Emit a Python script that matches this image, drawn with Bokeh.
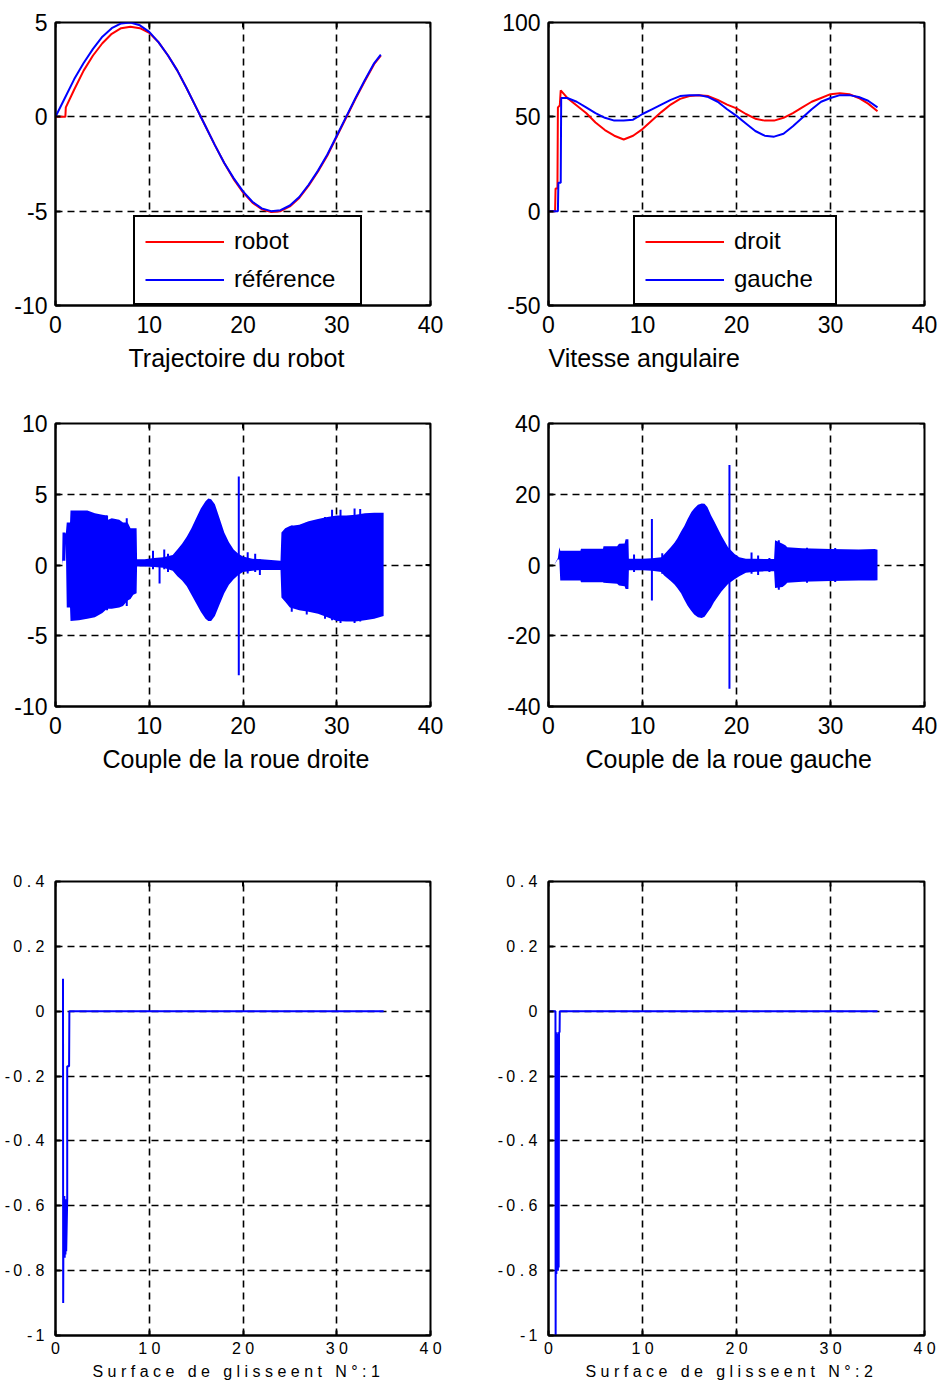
import math
from bokeh.plotting import figure
from bokeh.layouts import column, row
from bokeh.models import Range1d, FixedTicker, Title, Legend, LegendItem
from bokeh.embed import file_html
from bokeh.resources import INLINE

FONT = "Liberation Sans"
BLUE = "#0000ff"
RED = "#ff0000"
NB = "\u00a0"

# ---------------- Trajectoire du robot ----------------
ref_t = [0, 1, 2, 3, 4, 5, 6, 7, 8, 9, 10, 11, 12, 13, 14, 15, 16, 17, 18, 19, 20,
         21, 22, 23, 24, 25, 26, 27, 28, 29, 30, 31, 32, 33, 34, 34.7]
ref_y = [0.0, 1.0, 2.0, 2.85, 3.6, 4.25, 4.7, 4.95, 5.0, 4.85, 4.5, 3.95, 3.25, 2.45,
         1.5, 0.5, -0.5, -1.5, -2.45, -3.25, -3.95, -4.5, -4.85, -5.0, -4.95, -4.7,
         -4.25, -3.6, -2.85, -2.0, -1.0, 0.0, 1.0, 1.95, 2.85, 3.3]
robot_t = [0, 1.05, 1.1, 2, 3, 4, 5, 6, 7, 8, 9, 10, 11, 12, 13, 14, 15, 16, 17, 18,
           19, 20, 21, 22, 23, 24, 25, 26, 27, 28, 29, 30, 31, 32, 33, 34, 34.7]
robot_y = [0.0, 0.0, 0.5, 1.45, 2.45, 3.25, 3.9, 4.4, 4.7, 4.78, 4.7, 4.45, 3.95,
           3.25, 2.45, 1.5, 0.5, -0.5, -1.5, -2.45, -3.3, -4.0, -4.55, -4.9, -5.05,
           -5.0, -4.75, -4.3, -3.65, -2.9, -2.05, -1.05, -0.05, 0.95, 1.9, 2.8, 3.25]

# ---------------- Vitesse angulaire ----------------
droit_t = [0, 0.7, 0.75, 0.95, 1.0, 1.2, 1.3, 2, 3, 4, 5, 6, 7, 8, 9, 10, 11, 12, 13,
           14, 15, 16, 17, 18, 19, 20, 21, 22, 23, 24, 25, 26, 27, 28, 29, 30, 31, 32,
           33, 34, 35]
droit_y = [0, 0, 12, 12, 55, 56, 64, 60, 56, 52, 47, 43, 40, 38, 40, 43.5, 48, 52.5,
           56.5, 59.5, 61, 61.5, 61, 59, 56.5, 54.5, 51.5, 49, 48, 48, 49.5, 52, 55,
           58, 60, 62, 62.5, 62, 60, 57, 53]
gauche_t = [0, 1.0, 1.05, 1.3, 1.35, 2, 3, 4, 5, 6, 7, 8, 9, 10, 11, 12, 13, 14, 15,
            16, 17, 18, 19, 20, 21, 22, 23, 24, 25, 26, 27, 28, 29, 30, 31, 32, 33,
            34, 35]
gauche_y = [0, 0, 15, 15, 60, 60, 58, 55, 52, 49.5, 48, 48, 48.5, 51.5, 54, 56.5,
            59, 61, 61.5, 61.5, 60.5, 58, 54, 50.5, 46.5, 42.5, 40, 39.5, 41, 45,
            49.5, 54, 58, 60, 61.5, 61.5, 60.5, 58.5, 55]

# ---------------- Couple de la roue droite (envelope of the oscillation) ----------------
cd_t = [0.70, 0.75, 1.05, 1.10, 1.20, 1.55, 1.60, 2.5, 3.4, 4.2, 5.0, 5.5, 5.6, 6.0,
        6.8, 7.2, 7.7, 8.0, 8.3, 8.65, 8.7, 9.5, 10.5, 11.5, 12.5, 13.0, 13.5, 14.0,
        14.5, 15.0, 15.5, 16.0, 16.3, 16.6, 17.0, 17.5, 18.0, 18.5, 19.0, 19.5, 20.0,
        21.0, 22.0, 23.0, 24.0, 24.1, 24.5, 25.0, 26.0, 27.0, 28.0, 29.0, 30.0, 31.0,
        32.0, 33.0, 34.0, 35.0]
cd_hi = [0.0, 2.3, 2.3, 2.2, 3.0, 3.0, 3.85, 3.85, 3.85, 3.65, 3.55, 3.5, 3.2, 3.3,
         3.2, 3.0, 3.0, 2.6, 2.6, 2.6, 0.4, 0.4, 0.5, 0.55, 0.7, 1.1, 1.5, 2.0, 2.6,
         3.3, 4.0, 4.5, 4.7, 4.65, 4.3, 3.3, 2.3, 1.6, 1.1, 0.8, 0.6, 0.45, 0.4, 0.35,
         0.3, 2.3, 2.6, 2.75, 2.85, 3.1, 3.25, 3.4, 3.5, 3.5, 3.55, 3.65, 3.7, 3.7]
cd_lo = [0.0, 0.3, 0.3, 1.5, -3.0, -3.0, -3.95, -3.9, -3.8, -3.7, -3.4, -3.1, -3.1,
         -3.1, -3.0, -2.9, -2.5, -2.4, -2.1, -2.0, -0.1, -0.1, -0.15, -0.2, -0.4, -0.8,
         -1.1, -1.5, -2.1, -2.7, -3.3, -3.8, -3.95, -3.95, -3.6, -2.8, -2.0, -1.4, -1.0,
         -0.7, -0.5, -0.4, -0.35, -0.35, -0.35, -2.3, -2.6, -3.0, -3.2, -3.3, -3.45,
         -3.7, -3.95, -4.0, -4.0, -3.9, -3.8, -3.6]
cd_spk_t = [5.5, 7.6, 10.4, 11.1, 11.6, 12.0, 19.55, 20.5, 21.3, 21.8, 25.2, 26.8,
            28.75, 29.5, 30.4, 31.9, 32.5]
cd_spk_lo = [-3.2, -2.9, -0.3, -1.3, -0.3, -0.5, -7.8, -0.6, -0.5, -0.7, -3.3, -3.5,
             -3.8, -3.9, -4.1, -4.1, -4.0]
cd_spk_hi = [3.5, 3.3, 1.0, 0.5, 1.1, 0.8, 6.25, 0.9, 0.8, 0.4, 2.8, 3.0, 3.4, 3.9,
             3.9, 4.0, 3.95]

# ---------------- Couple de la roue gauche (envelope of the oscillation) ----------------
cg_t = [0.0, 0.6, 1.0, 1.15, 1.25, 3.4, 3.45, 5.8, 5.85, 7.3, 7.5, 8.1, 8.2, 8.5,
        8.55, 10.0, 11.0, 12.0, 12.3, 13.0, 13.4, 13.7, 14.1, 14.45, 14.8, 15.2, 15.5,
        15.9, 16.3, 16.6, 16.9, 17.3, 17.6, 18.4, 19.1, 19.8, 20.3, 21.0, 22.0, 23.0,
        24.0, 24.1, 24.9, 25.2, 25.4, 27.0, 30.0, 33.0, 34.7, 35.0]
cg_hi = [0.0, 0.0, 2.0, 5.0, 4.0, 4.0, 4.6, 4.6, 5.3, 5.3, 6.0, 6.1, 7.3, 7.3, 1.8,
         1.8, 1.9, 2.2, 3.0, 5.0, 6.3, 7.5, 9.5, 11.0, 13.0, 15.0, 16.0, 17.0, 17.4,
         17.3, 16.4, 14.0, 12.5, 8.3, 5.0, 3.1, 2.2, 1.8, 1.8, 1.7, 1.7, 7.0, 6.0, 5.6,
         5.0, 4.7, 4.5, 4.4, 4.5, 4.3]
cg_lo = [0.0, 0.0, 1.6, 1.5, -4.4, -4.4, -4.9, -4.9, -5.0, -5.3, -5.8, -6.0, -6.8,
         -6.8, -1.5, -1.5, -1.6, -2.0, -3.0, -4.5, -5.5, -6.5, -8.0, -9.8, -11.5, -13.0,
         -14.0, -14.8, -15.0, -14.6, -13.5, -12.0, -10.5, -7.5, -5.4, -4.0, -3.2, -2.2,
         -1.9, -1.8, -1.8, -6.5, -6.2, -5.6, -5.0, -4.7, -4.5, -4.4, -4.4, -4.3]
cg_spk_t = [9.1, 11.0, 12.1, 19.25, 21.6, 22.3, 23.5, 24.5, 27.5, 30.5]
cg_spk_lo = [-2.0, -10.0, -2.5, -35.0, -2.5, -2.8, -2.0, -7.0, -5.0, -4.8]
cg_spk_hi = [3.0, 13.0, 3.3, 28.3, 3.5, 2.7, 2.0, 7.0, 4.9, 4.8]

# ---------------- Surfaces de glissement ----------------
s1_t = [0.80, 0.82, 0.86, 0.90, 0.94, 0.98, 1.02, 1.06, 1.10, 1.14, 1.25, 1.25, 1.45,
        1.48, 35.0]
s1_v = [0.10, -0.90, -0.57, -0.76, -0.57, -0.76, -0.58, -0.75, -0.58, -0.74, -0.58,
        -0.17, -0.17, 0.0, 0.0]
s2_t = [0.0, 0.74, 0.76, 0.80, 0.84, 0.88, 0.92, 0.96, 1.00, 1.04, 1.08, 1.12, 1.18,
        1.20, 35.0]
s2_v = [0.0, 0.0, -1.0, -0.065, -0.81, -0.065, -0.80, -0.07, -0.80, -0.07, -0.79,
        -0.065, -0.065, 0.0, 0.0]

x_ticks = [0, 10, 20, 30, 40]
spaced_x_labels = {0: "0", 10: "1 0", 20: "2 0", 30: "3 0", 40: "4 0"}
s_ticks = [-1, -0.8, -0.6, -0.4, -0.2, 0, 0.2, 0.4]
spaced_s_labels = {-1: "-\u20091", -0.8: "-\u20090 . 8", -0.6: "-\u20090 . 6",
                   -0.4: "-\u20090 . 4", -0.2: "-\u20090 . 2", 0: "0",
                   0.2: "0 . 2", 0.4: "0 . 4"}


def hyphen_labels(ticks):
    return {t: f"{t:g}" for t in ticks}


def spaced(text):
    # letter-spaced caption: one space between glyphs, three between words
    words = text.split(" ")
    return (NB * 3).join(NB.join(list(w)) for w in words)


def make_fig(width, height, borders, xr, yr, yticks, font_px, x_std, y_std,
             xover=None, yover=None):
    left, right, top, bottom = borders
    p = figure(width=width, height=height, x_range=Range1d(*xr), y_range=Range1d(*yr),
               output_backend="svg", toolbar_location=None,
               min_border_left=left, min_border_right=right,
               min_border_top=top, min_border_bottom=bottom)
    p.background_fill_color = "white"
    p.border_fill_color = "white"
    p.outline_line_color = "black"
    p.outline_line_width = 2
    p.outline_line_alpha = 1.0

    def style(ax, ticks, over, std):
        ax.ticker = FixedTicker(ticks=ticks)
        ax.axis_line_color = "black"
        ax.axis_line_width = 2
        ax.major_tick_line_color = "black"
        ax.major_tick_line_width = 2
        ax.major_tick_in = 5
        ax.major_tick_out = 0
        ax.minor_tick_line_color = None
        ax.major_label_text_font = FONT
        ax.major_label_text_color = "black"
        ax.major_label_standoff = std
        ax.major_label_text_font_size = f"{font_px}px"
        ax.major_label_overrides = over if over else hyphen_labels(ticks)

    style(p.xaxis[0], x_ticks, xover, x_std)
    style(p.yaxis[0], yticks, yover, y_std)

    # inward tick marks on the top and right edges of the box
    p.scatter(x=x_ticks, y=[yr[1]] * len(x_ticks), marker="dash", angle=math.pi / 2,
              size=10, line_color="black", line_width=2)
    p.scatter(x=[xr[1]] * len(yticks), y=yticks, marker="dash",
              size=10, line_color="black", line_width=2)

    p.xgrid[0].ticker = FixedTicker(ticks=x_ticks)
    p.ygrid[0].ticker = FixedTicker(ticks=yticks)
    for g in (p.xgrid[0], p.ygrid[0]):
        g.grid_line_color = "black"
        g.grid_line_width = 1.6
        g.grid_line_dash = "7 5"
        g.grid_line_alpha = 1.0
    return p


def caption(p, text, offset, size, standoff):
    p.add_layout(Title(text=text, align="left", offset=offset, text_font=FONT,
                       text_font_size=size, text_font_style="normal",
                       text_color="black", standoff=standoff), "below")


def legend(p, items, loc, label_width):
    leg = Legend(items=items, location=loc, orientation="vertical",
                 border_line_color="black", border_line_width=2, border_line_alpha=1.0,
                 background_fill_color="white", background_fill_alpha=1.0,
                 label_text_font=FONT, label_text_font_size="24px",
                 label_text_color="black",
                 glyph_width=79, glyph_height=27, label_height=27,
                 label_width=label_width, label_standoff=10,
                 spacing=10, padding=10, margin=0)
    p.add_layout(leg)


# Row 1
p1 = make_fig(470, 400, (55, 40, 22, 95), (0, 40), (-10, 5), [-10, -5, 0, 5], 23, 10, 8)
r_robot = p1.line(robot_t, robot_y, line_color=RED, line_width=2)
r_ref = p1.line(ref_t, ref_y, line_color=BLUE, line_width=2)
legend(p1, [LegendItem(label="robot", renderers=[r_robot]),
            LegendItem(label="référence", renderers=[r_ref])], (78, 0), 116)
caption(p1, "Trajectoire du robot", 73, "25px", 12)

p2 = make_fig(470, 400, (78, 16, 22, 95), (0, 40), (-50, 100), [-50, 0, 50, 100], 23, 10, 8)
r_dr = p2.line(droit_t, droit_y, line_color=RED, line_width=2)
r_ga = p2.line(gauche_t, gauche_y, line_color=BLUE, line_width=2)
legend(p2, [LegendItem(label="droit", renderers=[r_dr]),
            LegendItem(label="gauche", renderers=[r_ga])], (85, 0), 91)
caption(p2, "Vitesse angulaire", 0, "25px", 12)

# Row 2
p3 = make_fig(470, 458, (55, 40, 23, 152), (0, 40), (-10, 10), [-10, -5, 0, 5, 10], 23, 10, 8)
p3.varea(x=cd_t, y1=cd_lo, y2=cd_hi, fill_color=BLUE, fill_alpha=1.0)
p3.segment(x0=cd_spk_t, y0=cd_spk_lo, x1=cd_spk_t, y1=cd_spk_hi, line_color=BLUE, line_width=2)
caption(p3, "Couple de la roue droite", 47, "25px", 12)

p4 = make_fig(470, 458, (78, 16, 23, 152), (0, 40), (-40, 40), [-40, -20, 0, 20, 40], 23, 10, 8)
p4.varea(x=cg_t, y1=cg_lo, y2=cg_hi, fill_color=BLUE, fill_alpha=1.0)
p4.segment(x0=cg_spk_t, y0=cg_spk_lo, x1=cg_spk_t, y1=cg_spk_hi, line_color=BLUE, line_width=2)
caption(p4, "Couple de la roue gauche", 37, "25px", 12)

# Row 3
p5 = make_fig(470, 525, (55, 40, 23, 48), (0, 40), (-1, 0.4), s_ticks, 16, 4, 11,
              spaced_x_labels, spaced_s_labels)
p5.line(s1_t, s1_v, line_color=BLUE, line_width=2)
caption(p5, spaced("Surface de glisseent N°:1"), 37, "16px", 2)

p6 = make_fig(470, 525, (78, 16, 23, 48), (0, 40), (-1, 0.4), s_ticks, 16, 4, 11,
              spaced_x_labels, spaced_s_labels)
p6.line(s2_t, s2_v, line_color=BLUE, line_width=2)
caption(p6, spaced("Surface de glisseent N°:2"), 37, "16px", 2)

layout = column(row(p1, p2, spacing=0), row(p3, p4, spacing=0), row(p5, p6, spacing=0),
                spacing=0)
open("out.html", "w").write(file_html(layout, INLINE))
